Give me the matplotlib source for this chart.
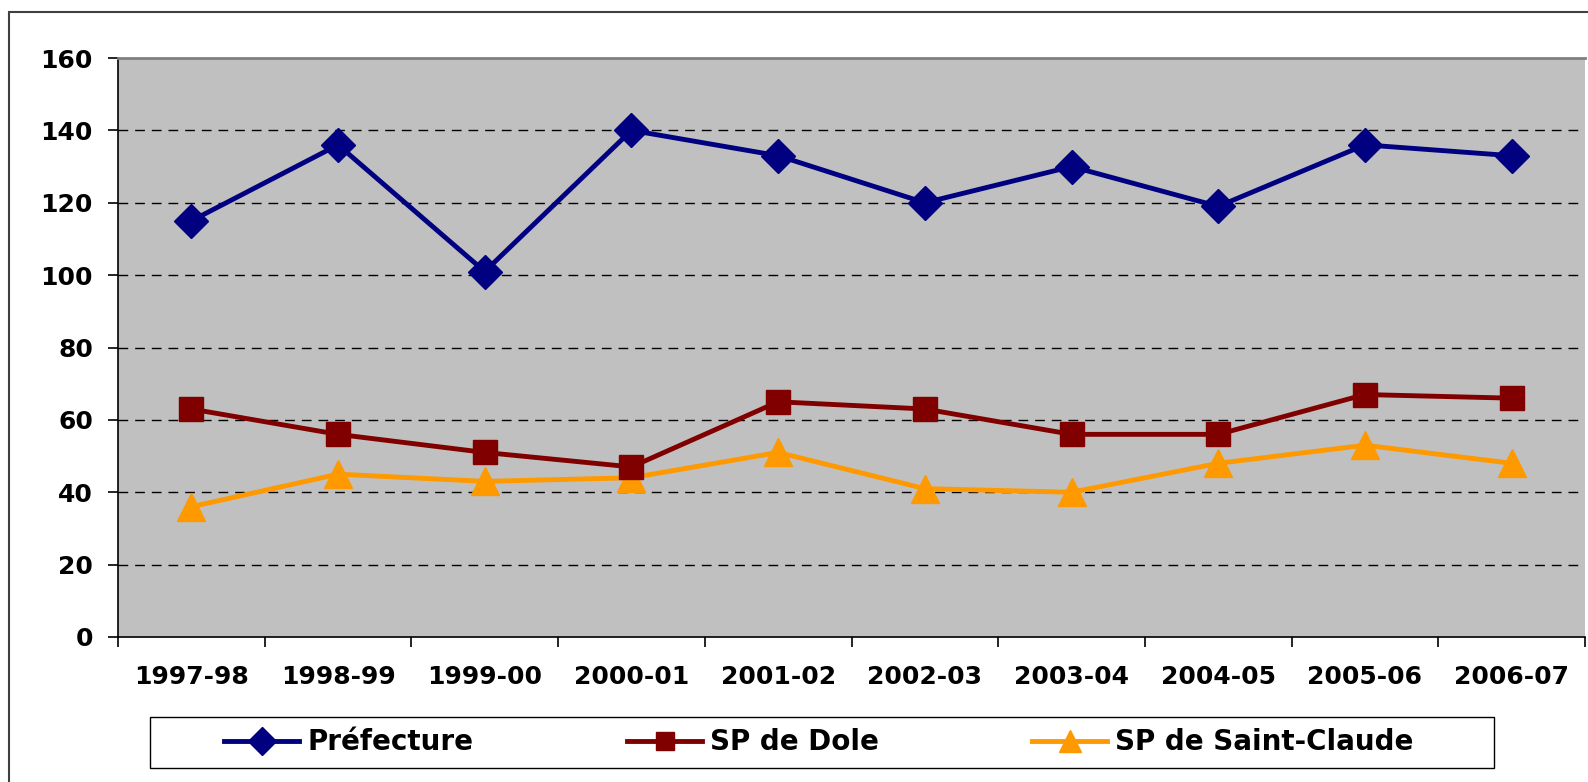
import matplotlib.pyplot as plt
from matplotlib.patches import Rectangle

plt.rcParams['font.family'] = ['DejaVu Sans']
plt.rcParams['font.weight'] = 'bold'

years = ['1997-98', '1998-99', '1999-00', '2000-01', '2001-02',
         '2002-03', '2003-04', '2004-05', '2005-06', '2006-07']
prefecture = [115, 136, 101, 140, 133, 120, 130, 119, 136, 133]
sp_dole = [63, 56, 51, 47, 65, 63, 56, 56, 67, 66]
sp_saint_claude = [36, 45, 43, 44, 51, 41, 40, 48, 53, 48]

W, H = 1588, 782
fig = plt.figure(figsize=(W / 100, H / 100), dpi=100)
ax = fig.add_axes([118 / W, 1 - 637 / H, 1467 / W, 579 / H])
ax.set_facecolor('#C0C0C0')

x = list(range(len(years)))
l1, = ax.plot(x, prefecture, color='#000080', lw=3.5, marker='D', ms=17.5,
              label='Préfecture', zorder=5)
l2, = ax.plot(x, sp_dole, color='#800000', lw=3.5, marker='s', ms=17,
              label='SP de Dole', zorder=4)
l3, = ax.plot(x, sp_saint_claude, color='#FF9900', lw=3.5, marker='^', ms=20,
              label='SP de Saint-Claude', zorder=3)

ax.set_xlim(-0.5, len(years) - 0.5)
ax.set_ylim(0, 160)
ax.set_yticks(range(0, 161, 20))
ax.set_xticks([i - 0.5 for i in range(len(years) + 1)])
ax.set_xticklabels([])
ax.set_xticks(x, minor=True)
ax.set_xticklabels(years, minor=True, fontsize=18, fontweight='bold')
ax.tick_params(axis='x', which='minor', length=0, pad=20)
ax.tick_params(axis='x', which='major', length=7, width=1.2, color='black')
ax.tick_params(axis='y', length=7, width=1.2, pad=11, labelsize=18)
for lab in ax.get_yticklabels():
    lab.set_fontweight('bold')

for v in range(20, 160, 20):
    ax.axhline(v, color='black', lw=1, dashes=(7, 5), zorder=1)

ax.spines['left'].set_color('black')
ax.spines['left'].set_linewidth(1.2)
ax.spines['bottom'].set_color('black')
ax.spines['bottom'].set_linewidth(1.2)
ax.spines['top'].set_color('#808080')
ax.spines['top'].set_linewidth(2)
ax.spines['right'].set_visible(False)

# legend: a frame plus one entry per column, placed like the original
fig.patches.append(Rectangle((150 / W, 1 - 768 / H), 1344 / W, 51 / H,
                             transform=fig.transFigure, facecolor='white',
                             edgecolor='black', lw=1))
leg_y = 1 - 742.5 / H
for handle, xstart in zip([l1, l2, l3], [224, 627, 1032]):
    leg = fig.legend(handles=[handle], loc='center left',
                     bbox_to_anchor=(xstart / W, leg_y),
                     prop={'size': 20, 'weight': 'bold'}, frameon=False,
                     handlelength=2.7, handletextpad=0.3, borderpad=0,
                     borderaxespad=0, markerscale=0.8)

fig.patches.append(Rectangle((9 / W, -0.1), 1.2, 1 - 12 / H + 0.1,
                             transform=fig.transFigure, fill=False,
                             edgecolor='#404040', lw=1.5, clip_on=False))

fig.savefig('out.png', dpi=100)
